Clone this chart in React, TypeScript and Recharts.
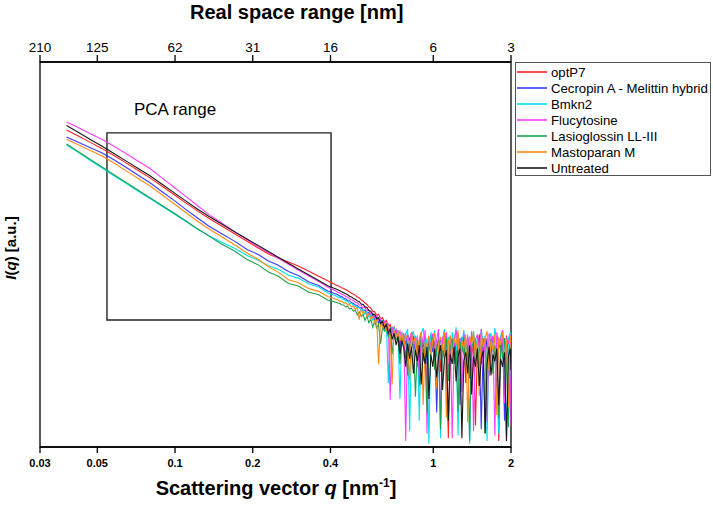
import { Label, Line, LineChart, ReferenceArea, XAxis, YAxis } from 'recharts';

// scattering vector q [nm^-1]
const qValues = [
  0.038, 0.042, 0.047, 0.052, 0.058, 0.065, 0.072, 0.08, 0.09, 0.1, 0.11, 0.12,
  0.135, 0.15, 0.17, 0.19, 0.21, 0.23, 0.25, 0.275, 0.3, 0.33, 0.36, 0.39,
  0.42, 0.427, 0.435, 0.442, 0.45, 0.458, 0.466, 0.474, 0.482, 0.491,
  0.499, 0.508, 0.517, 0.526, 0.535, 0.544, 0.554, 0.563, 0.573, 0.583,
  0.593, 0.604, 0.614, 0.625, 0.636, 0.647, 0.658, 0.67, 0.681, 0.693,
  0.705, 0.718, 0.73, 0.743, 0.756, 0.769, 0.782, 0.796, 0.81, 0.824,
  0.838, 0.853, 0.868, 0.883, 0.898, 0.914, 0.93, 0.946, 0.962, 0.979,
  0.996, 1.013, 1.031, 1.049, 1.067, 1.086, 1.105, 1.124, 1.144, 1.164,
  1.184, 1.205, 1.226, 1.247, 1.269, 1.291, 1.313, 1.336, 1.36, 1.383,
  1.407, 1.432, 1.457, 1.482, 1.508, 1.534, 1.561, 1.588, 1.616, 1.644,
  1.673, 1.702, 1.732, 1.762, 1.793, 1.824, 1.856, 1.888, 1.921, 1.955,
  1.989, 2.0,
];

const optP7 = [
  13.1, 11.0, 9.04, 7.55, 6.11, 4.82, 3.9, 3.13, 2.38, 1.86, 1.48, 1.21,
  0.935, 0.757, 0.589, 0.471, 0.385, 0.321, 0.287, 0.253, 0.224, 0.192, 0.165, 0.144,
  0.127, 0.124, 0.121, 0.117, 0.114, 0.111, 0.107, 0.104, 0.099, 0.097,
  0.093, 0.089, 0.087, 0.081, 0.079, 0.074, 0.071, 0.066, 0.064, 0.058,
  0.057, 0.051, 0.053, 0.046, 0.048, 0.041, 0.044, 0.036, 0.039, 0.031,
  0.036, 0.028, 0.033, 0.022, 0.03, 0.026, 0.014, 0.029, 0.024, 0.031,
  0.019, 0.027, 0.011, 0.024, 0.03, 0.017, 0.022, 0.0048, 0.026, 0.019,
  0.028, 0.013, 0.021, 0.025, 0.0095, 0.022, 0.031, 0.016, 0.0013, 0.02,
  0.026, 0.014, 0.023, 0.03, 0.011, 0.018, 0.025, 0.0068, 0.021, 0.027,
  0.015, 0.022, 0.0019, 0.019, 0.029, 0.012, 0.024, 0.017, 0.026, 0.0083,
  0.02, 0.027, 0.014, 0.023, 0.0012, 0.018, 0.025, 0.011, 0.028, 0.016,
  0.021, 0.024,
];

const cecropin = [
  10.6, 9.14, 7.71, 6.62, 5.38, 4.23, 3.39, 2.7, 2.02, 1.56, 1.22, 0.986,
  0.743, 0.601, 0.472, 0.368, 0.316, 0.26, 0.231, 0.19, 0.169, 0.139, 0.125, 0.106,
  0.097, 0.095, 0.091, 0.09, 0.086, 0.084, 0.08, 0.079, 0.075, 0.073,
  0.07, 0.069, 0.064, 0.065, 0.059, 0.06, 0.054, 0.056, 0.049, 0.052,
  0.045, 0.049, 0.041, 0.045, 0.037, 0.042, 0.032, 0.038, 0.03, 0.035,
  0.026, 0.032, 0.029, 0.019, 0.028, 0.024, 0.03, 0.013, 0.026, 0.021,
  0.028, 0.016, 0.023, 0.0062, 0.025, 0.02, 0.027, 0.012, 0.022, 0.029,
  0.017, 0.024, 0.0028, 0.021, 0.026, 0.014, 0.019, 0.028, 0.0091, 0.023,
  0.018, 0.025, 0.012, 0.021, 0.0035, 0.027, 0.016, 0.022, 0.019, 0.0078,
  0.024, 0.029, 0.013, 0.02, 0.026, 0.0017, 0.022, 0.017, 0.025, 0.011,
  0.019, 0.027, 0.015, 0.0055, 0.023, 0.018, 0.026, 0.0022, 0.021, 0.014,
  0.024, 0.012,
];

const bmkn2 = [
  8.36, 6.75, 5.26, 4.23, 3.33, 2.62, 2.1, 1.69, 1.31, 1.045, 0.853, 0.703,
  0.558, 0.462, 0.382, 0.307, 0.267, 0.226, 0.205, 0.17, 0.156, 0.131, 0.12, 0.1,
  0.092, 0.088, 0.089, 0.084, 0.083, 0.079, 0.078, 0.073, 0.074, 0.069,
  0.068, 0.064, 0.066, 0.058, 0.061, 0.053, 0.057, 0.049, 0.052, 0.045,
  0.05, 0.041, 0.046, 0.038, 0.043, 0.034, 0.04, 0.0068, 0.036, 0.031,
  0.035, 0.027, 0.033, 0.0042, 0.031, 0.025, 0.029, 0.034, 0.0016, 0.027,
  0.032, 0.021, 0.028, 0.0022, 0.03, 0.035, 0.018, 0.026, 0.0011, 0.031,
  0.024, 0.033, 0.015, 0.028, 0.0013, 0.025, 0.034, 0.019, 0.027, 0.011,
  0.031, 0.022, 0.036, 0.0014, 0.026, 0.02, 0.033, 0.016, 0.029, 0.0011,
  0.024, 0.032, 0.018, 0.027, 0.013, 0.034, 0.021, 0.028, 0.0012, 0.025,
  0.03, 0.017, 0.035, 0.023, 0.0015, 0.028, 0.033, 0.019, 0.0012, 0.026,
  0.031, 0.022,
];

const flucytosine = [
  16.6, 14.2, 11.7, 9.94, 8.06, 6.37, 5.15, 4.14, 3.04, 2.31, 1.8, 1.43,
  1.05, 0.83, 0.627, 0.495, 0.397, 0.335, 0.285, 0.236, 0.199, 0.166, 0.141, 0.12,
  0.106, 0.102, 0.1, 0.096, 0.094, 0.09, 0.088, 0.085, 0.082, 0.08,
  0.076, 0.075, 0.07, 0.07, 0.064, 0.065, 0.059, 0.06, 0.053, 0.055,
  0.048, 0.051, 0.044, 0.047, 0.04, 0.043, 0.036, 0.039, 0.0041, 0.035,
  0.03, 0.034, 0.027, 0.032, 0.025, 0.03, 0.0012, 0.028, 0.022, 0.031,
  0.019, 0.027, 0.024, 0.0085, 0.029, 0.021, 0.033, 0.0015, 0.026, 0.02,
  0.03, 0.016, 0.025, 0.034, 0.0019, 0.027, 0.022, 0.031, 0.012, 0.028,
  0.0013, 0.024, 0.033, 0.018, 0.026, 0.0052, 0.03, 0.021, 0.027, 0.015,
  0.032, 0.0016, 0.025, 0.029, 0.019, 0.034, 0.011, 0.026, 0.0021, 0.03,
  0.023, 0.028, 0.0014, 0.031, 0.02, 0.025, 0.033, 0.0037, 0.027, 0.022,
  0.029, 0.0019,
];

const lasioglossin = [
  8.61, 6.95, 5.42, 4.36, 3.44, 2.7, 2.16, 1.73, 1.34, 1.07, 0.869, 0.71,
  0.552, 0.44, 0.351, 0.272, 0.232, 0.187, 0.166, 0.133, 0.123, 0.102, 0.095, 0.081,
  0.076, 0.074, 0.073, 0.07, 0.07, 0.066, 0.067, 0.062, 0.063, 0.058,
  0.06, 0.052, 0.057, 0.05, 0.053, 0.044, 0.05, 0.041, 0.046, 0.036,
  0.043, 0.035, 0.039, 0.022, 0.036, 0.032, 0.034, 0.027, 0.031, 0.016,
  0.029, 0.025, 0.027, 0.012, 0.026, 0.021, 0.024, 0.0085, 0.022, 0.019,
  0.025, 0.0045, 0.021, 0.017, 0.026, 0.013, 0.02, 0.0028, 0.023, 0.016,
  0.027, 0.01, 0.019, 0.024, 0.0017, 0.021, 0.014, 0.026, 0.0072, 0.02,
  0.025, 0.012, 0.018, 0.0029, 0.023, 0.017, 0.027, 0.0095, 0.021, 0.0012,
  0.019, 0.024, 0.013, 0.022, 0.0062, 0.018, 0.026, 0.0015, 0.02, 0.015,
  0.025, 0.0089, 0.021, 0.017, 0.0024, 0.023, 0.014, 0.026, 0.011, 0.0018,
  0.02, 0.017,
];

const mastoparan = [
  9.91, 8.49, 7.1, 6.05, 4.88, 3.83, 3.07, 2.45, 1.83, 1.41, 1.11, 0.895,
  0.684, 0.55, 0.424, 0.33, 0.274, 0.219, 0.188, 0.149, 0.137, 0.114, 0.105, 0.09,
  0.083, 0.081, 0.078, 0.079, 0.074, 0.075, 0.07, 0.071, 0.066, 0.068,
  0.061, 0.064, 0.045, 0.06, 0.055, 0.057, 0.05, 0.053, 0.046, 0.049,
  0.041, 0.046, 0.012, 0.042, 0.036, 0.04, 0.033, 0.037, 0.029, 0.0065,
  0.033, 0.027, 0.031, 0.024, 0.03, 0.02, 0.028, 0.025, 0.0075, 0.029,
  0.022, 0.027, 0.014, 0.026, 0.031, 0.0035, 0.024, 0.02, 0.028, 0.016,
  0.025, 0.03, 0.0058, 0.022, 0.027, 0.018, 0.031, 0.0024, 0.023, 0.028,
  0.015, 0.026, 0.021, 0.033, 0.0078, 0.024, 0.019, 0.029, 0.0021, 0.027,
  0.022, 0.031, 0.014, 0.025, 0.0046, 0.029, 0.02, 0.026, 0.032, 0.0098,
  0.024, 0.018, 0.029, 0.0026, 0.027, 0.021, 0.031, 0.013, 0.025, 0.0033,
  0.028, 0.023,
];

const untreated = [
  14.96, 12.3, 9.86, 8.09, 6.49, 5.12, 4.14, 3.33, 2.53, 1.97, 1.57, 1.28,
  0.993, 0.804, 0.625, 0.502, 0.413, 0.345, 0.294, 0.243, 0.205, 0.171, 0.145, 0.124,
  0.113, 0.11, 0.107, 0.104, 0.101, 0.098, 0.095, 0.091, 0.089, 0.085,
  0.083, 0.079, 0.077, 0.072, 0.071, 0.066, 0.065, 0.059, 0.058, 0.052,
  0.053, 0.046, 0.048, 0.04, 0.043, 0.035, 0.039, 0.03, 0.034, 0.025,
  0.03, 0.021, 0.027, 0.016, 0.024, 0.019, 0.011, 0.022, 0.014, 0.02,
  0.009, 0.018, 0.013, 0.021, 0.0065, 0.017, 0.012, 0.02, 0.0042, 0.016,
  0.011, 0.019, 0.008, 0.015, 0.021, 0.0055, 0.014, 0.018, 0.0022, 0.016,
  0.012, 0.02, 0.0071, 0.015, 0.019, 0.0013, 0.013, 0.017, 0.009, 0.021,
  0.0048, 0.015, 0.011, 0.019, 0.0062, 0.014, 0.018, 0.0015, 0.012, 0.02,
  0.0085, 0.016, 0.013, 0.019, 0.0035, 0.014, 0.011, 0.017, 0.0012, 0.015,
  0.019, 0.01,
];

const series = [
  { key: 'optP7', name: 'optP7', color: '#ff2020', values: optP7 },
  { key: 'cecropin', name: 'Cecropin A - Melittin hybrid', color: '#3a3aff', values: cecropin },
  { key: 'bmkn2', name: 'Bmkn2', color: '#00e0f0', values: bmkn2 },
  { key: 'flucytosine', name: 'Flucytosine', color: '#ff3cff', values: flucytosine },
  { key: 'lasioglossin', name: 'Lasioglossin LL-III', color: '#1fa050', values: lasioglossin },
  { key: 'mastoparan', name: 'Mastoparan M', color: '#ff8c10', values: mastoparan },
  { key: 'untreated', name: 'Untreated', color: '#1a1a1a', values: untreated },
];

const qTicks = [0.03, 0.05, 0.1, 0.2, 0.4, 1, 2];
const realSpaceLabels = ['210', '125', '62', '31', '16', '6', '3'];

// PCA window
const pcaRange = { q1: 0.0545, q2: 0.402, i1: 0.0446, i2: 12.0 };

const data = qValues.map((q, i) => {
  const row: Record<string, number> = { q };
  series.forEach((s) => {
    row[s.key] = s.values[i];
  });
  return row;
});

const font = 'Arial, "Liberation Sans", sans-serif';

const topTitle = () => (
  <text x={190} y={19} fontSize={20} fontWeight="bold" fill="#000" fontFamily={font}>
    Real space range [nm]
  </text>
);

const bottomTitle = () => (
  <text
    x={276}
    y={495}
    textAnchor="middle"
    fontSize={20}
    fontWeight="bold"
    fill="#000"
    fontFamily={font}
  >
    Scattering vector <tspan fontStyle="italic">q</tspan> [nm
    <tspan dy={-8} fontSize={12}>-1</tspan>
    <tspan dy={8}>]</tspan>
  </text>
);

const yTitle = () => (
  <text
    x={16}
    y={248}
    transform="rotate(-90 16 248)"
    textAnchor="middle"
    fontSize={15}
    fontWeight="bold"
    fill="#000"
    fontFamily={font}
  >
    <tspan fontStyle="italic">I</tspan>(<tspan fontStyle="italic">q</tspan>) [a.u.]
  </text>
);

const pcaLabel = (props: any) => {
  const vb = props.viewBox || {};
  return (
    <text x={vb.x + 27} y={vb.y - 18} fontSize={17} fill="#000" fontFamily={font}>
      PCA range
    </text>
  );
};

const LegendBox = () => (
  <div
    style={{
      position: 'absolute',
      left: 515,
      top: 62,
      width: 196,
      height: 114,
      border: '1px solid #555',
      boxSizing: 'border-box',
      background: '#fff',
      fontFamily: font,
      fontSize: 13.2,
      paddingTop: 1,
    }}
  >
    {series.map((s) => (
      <div key={s.key} style={{ display: 'flex', alignItems: 'center', height: 16 }}>
        <svg width={33} height={4} style={{ flex: 'none' }}>
          <line x1={1} y1={2} x2={31} y2={2} stroke={s.color} strokeWidth={1.6} />
        </svg>
        <span style={{ marginLeft: 2, whiteSpace: 'nowrap' }}>{s.name}</span>
      </div>
    ))}
  </div>
);

export default function App() {
  return (
    <div
      style={{
        position: 'absolute',
        left: 0,
        top: 0,
        width: 713,
        height: 510,
        background: '#fff',
        fontFamily: font,
      }}
    >
      <LineChart
        width={713}
        height={510}
        data={data}
        margin={{ top: 32, right: 202, bottom: 33, left: 40 }}
      >
        <XAxis
          dataKey="q"
          type="number"
          scale="log"
          domain={[0.03, 2]}
          allowDataOverflow
          ticks={qTicks}
          interval={0}
          height={30}
          tickSize={6}
          tickMargin={6}
          tickFormatter={(v) => String(v)}
          tick={{ fontSize: 11, fontWeight: 'bold', fill: '#000', fontFamily: font }}
          axisLine={{ stroke: '#000', strokeWidth: 1.3 }}
          tickLine={{ stroke: '#000', strokeWidth: 1.3 }}
        >
          <Label content={bottomTitle} />
        </XAxis>
        <XAxis
          xAxisId="top"
          orientation="top"
          dataKey="q"
          type="number"
          scale="log"
          domain={[0.03, 2]}
          allowDataOverflow
          ticks={qTicks}
          interval={0}
          height={30}
          tickSize={7}
          tickMargin={3}
          tickFormatter={(v) => realSpaceLabels[qTicks.indexOf(v)] ?? ''}
          tick={{ fontSize: 13.5, fill: '#000', fontFamily: font }}
          axisLine={{ stroke: '#000', strokeWidth: 1.3 }}
          tickLine={{ stroke: '#000', strokeWidth: 1.3 }}
        >
          <Label content={topTitle} />
        </XAxis>
        <YAxis type="number" scale="log" domain={[0.001, 100]} allowDataOverflow hide />
        <ReferenceArea
          x1={0.03}
          x2={2}
          y1={0.001}
          y2={100}
          fill="none"
          fillOpacity={0}
          stroke="#000"
          strokeWidth={1.3}
        >
          <Label content={yTitle} />
        </ReferenceArea>
        <ReferenceArea
          x1={pcaRange.q1}
          x2={pcaRange.q2}
          y1={pcaRange.i1}
          y2={pcaRange.i2}
          fill="none"
          fillOpacity={0}
          stroke="#222"
          strokeWidth={1.4}
        >
          <Label content={pcaLabel} />
        </ReferenceArea>
        {series.map((s) => (
          <Line
            key={s.key}
            dataKey={s.key}
            name={s.name}
            type="linear"
            stroke={s.color}
            strokeWidth={1.1}
            dot={false}
            activeDot={false}
            isAnimationActive={false}
          />
        ))}
      </LineChart>
      <LegendBox />
    </div>
  );
}
